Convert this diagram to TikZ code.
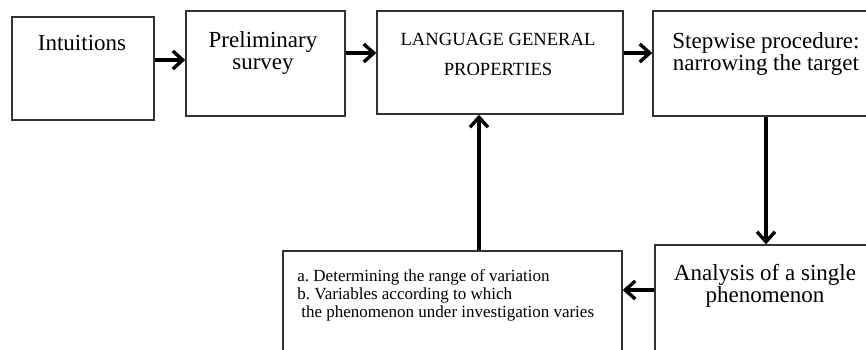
\documentclass[tikz,border=0pt]{standalone}
\usepackage{fontspec}
\setmainfont{Liberation Serif}
\usetikzlibrary{arrows.meta}
\frenchspacing

\begin{document}
\begin{tikzpicture}[x=0.5pt, y=-0.5pt,
  >={Straight Barb[length=5pt,width=9pt]},
  box/.style={draw=black!80, line width=0.7pt, inner sep=0pt},
  txt/.style={inner sep=0pt, align=center, font=\fontsize{11.5}{11}\selectfont},
  arr/.style={->, line width=1.7pt}]
  \useasboundingbox (0,0) rectangle (866,349);

  \node[box, minimum width=71pt, minimum height=51.5pt] (int) at (83,68.5) {};
  \node[box, minimum width=79.5pt, minimum height=52.5pt] (pre) at (265.5,63.5) {};
  \node[box, minimum width=123pt, minimum height=51.5pt] (lang) at (500,62.5) {};
  \node[box, minimum width=113pt, minimum height=52.5pt] (step) at (766,63.5) {};
  \node[box, minimum width=169.5pt, minimum height=69.5pt] (var) at (452.5,320.5) {};
  \node[box, minimum width=111pt, minimum height=72.5pt] (ana) at (766,317.5) {};

  \node[txt, anchor=base] (int-t) at (82,50) {Intuitions};
  \node[txt, anchor=base] (pre-t) at (263,69) {Preliminary\\survey};
  \node[txt, anchor=base, font=\fontsize{9.3}{15}\selectfont] (lang-t) at (498,75)
    {LANGUAGE GENERAL\\PROPERTIES};
  \node[txt, anchor=base] (step-t) at (766,70) {Stepwise procedure:\\narrowing the target};
  \node[txt, anchor=base west, align=left, font=\fontsize{8.5}{9}\selectfont] (var-t) at (297,317)
    {a. Determining the range of variation\\b. Variables according to which\\\hspace{2pt}the phenomenon under investigation varies};
  \node[txt, anchor=base] (ana-t) at (765,302) {Analysis of a single\\phenomenon};

  \foreach \a/\b/\y in {int/pre/60, pre/lang/53, lang/step/53}
    \draw[arr] (\a.east |- 0,\y) -- (\b.west |- 0,\y);
  \draw[arr] (step.south) -- (ana.north);
  \draw[arr] (ana.west |- 0,290) -- (var.east |- 0,290);
  \draw[arr] (var.north -| 479,0) -- (lang.south -| 479,0);
\end{tikzpicture}
\end{document}
